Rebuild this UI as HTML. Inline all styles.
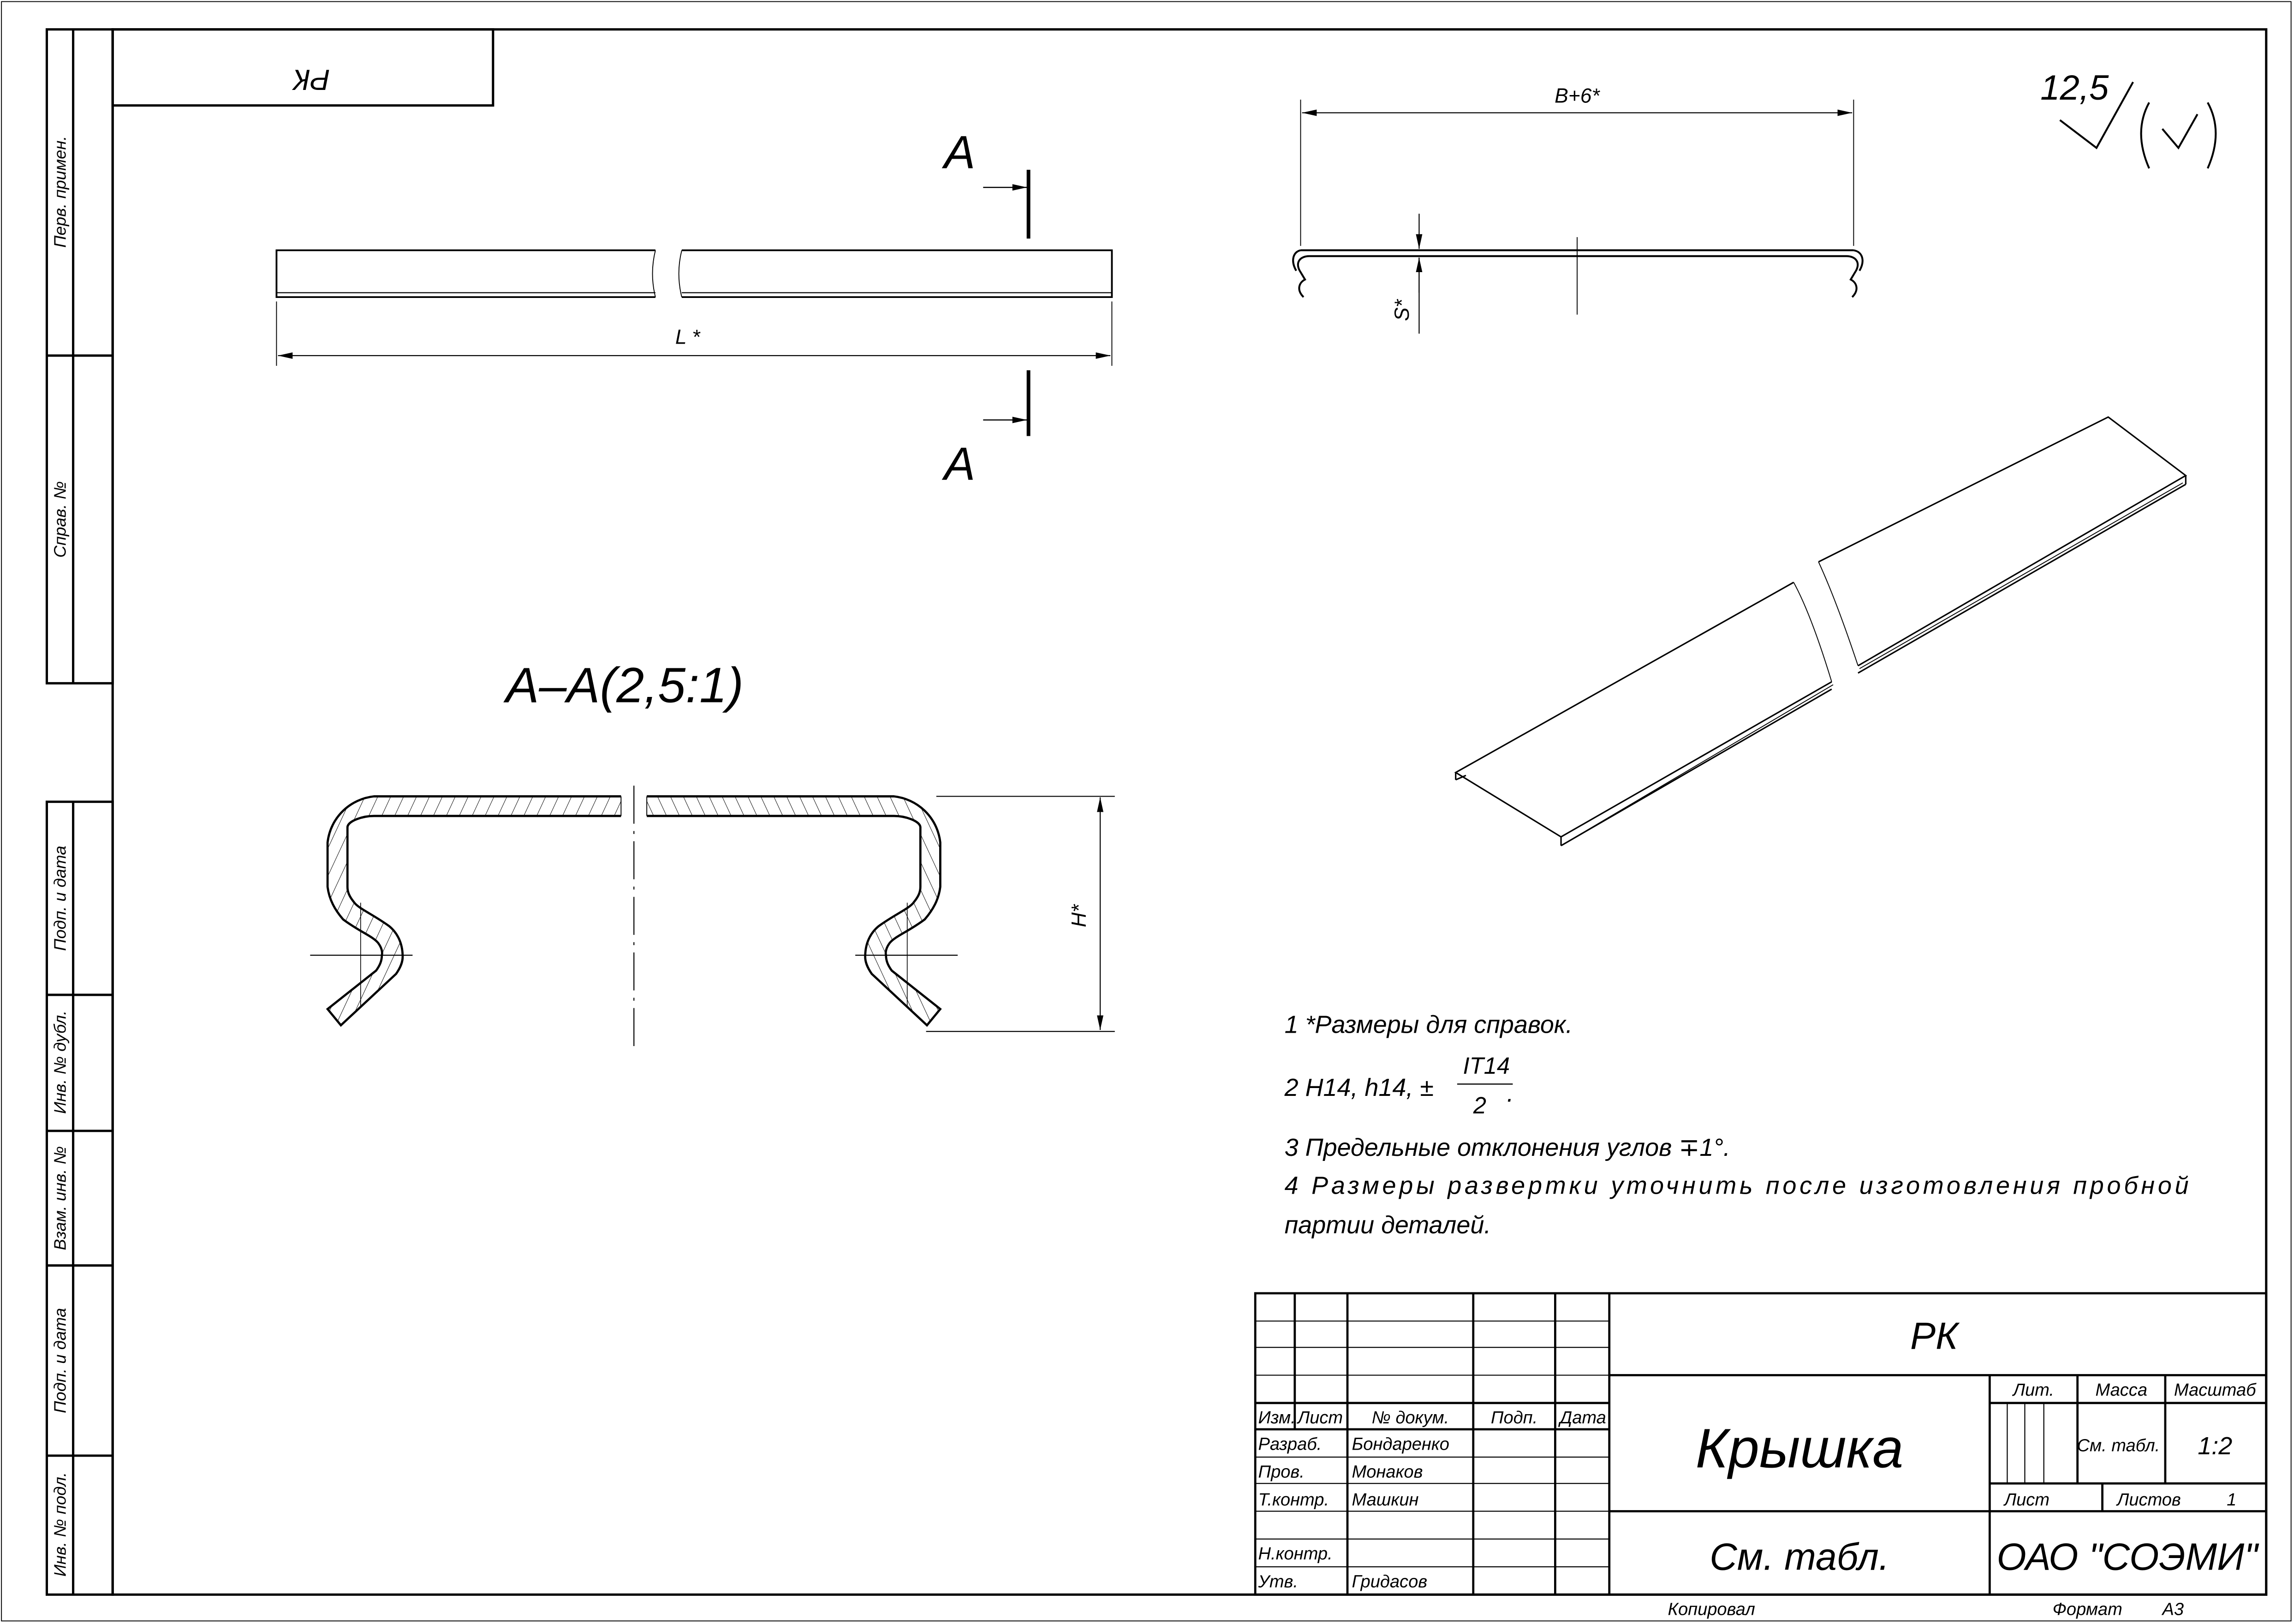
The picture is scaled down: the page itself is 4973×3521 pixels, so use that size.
<!DOCTYPE html>
<html><head><meta charset="utf-8"><style>
html,body{margin:0;padding:0;background:#fff;}
svg{display:block;}
text{font-family:"Liberation Sans","DejaVu Sans",sans-serif;font-style:italic;fill:#000;}
</style></head><body>
<svg width="4973" height="3521" viewBox="0 0 1568 1110" xmlns="http://www.w3.org/2000/svg">
<defs>
<pattern id="h" patternUnits="userSpaceOnUse" width="8" height="8" patternTransform="rotate(25)">
<line x1="0" y1="0" x2="0" y2="8" stroke="#000" stroke-width="0.6"/>
</pattern>
<marker id="ar" markerWidth="10" markerHeight="6" refX="10" refY="3" orient="auto" markerUnits="userSpaceOnUse"><path d="M0,0.8 L10,3 L0,5.2 Z" fill="#000"/></marker>
<marker id="al" markerWidth="10" markerHeight="6" refX="0" refY="3" orient="auto" markerUnits="userSpaceOnUse"><path d="M10,0.8 L0,3 L10,5.2 Z" fill="#000"/></marker>
</defs>
<rect x="0" y="0" width="1568" height="1110" fill="#fff"/>
<rect x="1" y="1" width="1565" height="1107" fill="none" stroke="#000" stroke-width="0.6"/>
<g fill="none" stroke="#000" stroke-width="1.6">
<rect x="77" y="20" width="1472" height="1070"/>
<rect x="32" y="20" width="45" height="447"/>
<line x1="50" y1="20" x2="50" y2="467"/>
<line x1="32" y1="243" x2="77" y2="243"/>
<rect x="32" y="548" width="45" height="542"/>
<line x1="50" y1="548" x2="50" y2="1090"/>
<line x1="32" y1="680" x2="77" y2="680"/>
<line x1="32" y1="773" x2="77" y2="773"/>
<line x1="32" y1="865" x2="77" y2="865"/>
<line x1="32" y1="995" x2="77" y2="995"/>
<rect x="77" y="20" width="260" height="52"/>
</g>
<text transform="translate(213,53) rotate(180)" font-size="20" text-anchor="middle" dominant-baseline="middle">РК</text>
<g font-size="11.5" text-anchor="middle">
<text transform="translate(45,131) rotate(-90)">Перв. примен.</text>
<text transform="translate(45,355) rotate(-90)">Справ. №</text>
<text transform="translate(45,614) rotate(-90)">Подп. и дата</text>
<text transform="translate(45,726) rotate(-90)">Инв. № дубл.</text>
<text transform="translate(45,819) rotate(-90)">Взам. инв. №</text>
<text transform="translate(45,930) rotate(-90)">Подп. и дата</text>
<text transform="translate(45,1042) rotate(-90)">Инв. № подл.</text>
</g>

<g fill="none" stroke="#000">
<path d="M448,171 L189,171 L189,203 L448,203" stroke-width="1.2"/>
<path d="M466,171 L760,171 L760,203 L466,203" stroke-width="1.2"/>
<line x1="189" y1="200" x2="448" y2="200" stroke-width="0.7"/>
<line x1="466" y1="200" x2="760" y2="200" stroke-width="0.7"/>
<path d="M448,171 Q444,187 448,203" stroke-width="0.6"/>
<path d="M466,171 Q462,187 466,203" stroke-width="0.6"/>
<line x1="189" y1="206" x2="189" y2="250" stroke-width="0.6"/>
<line x1="760" y1="206" x2="760" y2="250" stroke-width="0.6"/>
<line x1="190" y1="243" x2="759" y2="243" stroke-width="0.7" marker-start="url(#al)" marker-end="url(#ar)"/>
<line x1="703" y1="116" x2="703" y2="163" stroke-width="2.5"/>
<line x1="703" y1="253" x2="703" y2="298" stroke-width="2.5"/>
<line x1="672" y1="128" x2="702" y2="128" stroke-width="0.8" marker-end="url(#ar)"/>
<line x1="672" y1="287" x2="702" y2="287" stroke-width="0.8" marker-end="url(#ar)"/>
</g>
<text x="470" y="235" font-size="14" text-anchor="middle">L *</text>
<text x="656" y="115" font-size="32" text-anchor="middle">A</text>
<text x="656" y="328" font-size="32" text-anchor="middle">A</text>

<text x="427" y="480" font-size="34" text-anchor="middle">A–A(2,5:1)</text>
<g id="half">
<path d="M424.5,544.3 L255.6,544.3 C240,546 226,558 223.9,575.8 L223.9,606.2 C225,615 229,622 234.5,628.4 L258.6,644.7 C261,648 261.5,651 261,652.9 C261,657 259.5,660 257.1,663.4 L223.9,689.7 L233,700.8 L270.7,665.7 C274,661 275.5,657 275.2,652.9 C275,645 272,638 266.1,633.1 L242,616.7 C239,613 237.5,610 237.5,606.2 L237.5,565.3 C238,561 248,557.7 255.6,557.7 L424.5,557.7 Z" fill="url(#h)" stroke="none"/>
<path d="M424.5,544.3 L255.6,544.3 C240,546 226,558 223.9,575.8 L223.9,606.2 C225,615 229,622 234.5,628.4 C246,637 255,640 258.6,644.7 C261,648 261.5,651 261,652.9 C261,657 259.5,660 257.1,663.4 L223.9,689.7 L233,700.8 L270.7,665.7 C274,661 275.5,657 275.2,652.9 C275,645 272,638 266.1,633.1 C255,625 245,621 242,616.7 C239,613 237.5,610 237.5,606.2 L237.5,565.3 C238,561 248,557.7 255.6,557.7 L424.5,557.7" fill="none" stroke="#000" stroke-width="1.5"/>
<line x1="424.5" y1="544.3" x2="424.5" y2="557.7" stroke="#000" stroke-width="0.6"/>
<line x1="212" y1="652.9" x2="282" y2="652.9" stroke="#000" stroke-width="0.7"/>
<line x1="246.5" y1="617" x2="246.5" y2="688" stroke="#000" stroke-width="0.5"/>
</g>
<use href="#half" transform="translate(866.6,0) scale(-1,1)"/>
<line x1="433.3" y1="537" x2="433.3" y2="715" stroke="#000" stroke-width="0.7" stroke-dasharray="26,5,2,5"/>
<g fill="none" stroke="#000" stroke-width="0.7">
<line x1="640" y1="544.3" x2="762" y2="544.3"/>
<line x1="633" y1="705" x2="762" y2="705"/>
<line x1="752" y1="545" x2="752" y2="704" marker-start="url(#al)" marker-end="url(#ar)"/>
</g>
<text transform="translate(742,626) rotate(-90)" font-size="14" text-anchor="middle">H*</text>

<g fill="none" stroke="#000">
<path d="M895,175 C888,175 885,180 889,186 L892,191 C888,193 886,198 891,203" stroke-width="1.3"/>
<path d="M1262,175 C1269,175 1272,180 1268,186 L1265,191 C1269,193 1271,198 1266,203" stroke-width="1.3"/>
<path d="M889,171 L1267,171 M895,175 L1262,175" stroke-width="1.3"/>
<path d="M889,171 C884,172 882,178 886,185 M1267,171 C1273,172 1275,178 1271,185" stroke-width="1.3"/>
<line x1="1078" y1="162" x2="1078" y2="215" stroke-width="0.6"/>
<line x1="889" y1="68" x2="889" y2="168" stroke-width="0.6"/>
<line x1="1267" y1="68" x2="1267" y2="168" stroke-width="0.6"/>
<line x1="890" y1="77" x2="1266" y2="77" stroke-width="0.7" marker-start="url(#al)" marker-end="url(#ar)"/>
<line x1="970" y1="146" x2="970" y2="170" stroke-width="0.7" marker-end="url(#ar)"/>
<line x1="970" y1="200" x2="970" y2="176" stroke-width="0.7" marker-end="url(#ar)"/>
<line x1="970" y1="176" x2="970" y2="228" stroke-width="0.7"/>
<line x1="960" y1="171" x2="980" y2="171" stroke-width="0.5"/>
<line x1="960" y1="175" x2="980" y2="175" stroke-width="0.5"/>
</g>
<text x="1078" y="70" font-size="14" text-anchor="middle">B+6*</text>
<text transform="translate(963,212) rotate(-90)" font-size="14" text-anchor="middle">S*</text>

<text x="1418" y="68" font-size="24" text-anchor="middle">12,5</text>
<g fill="none" stroke="#000" stroke-width="1.3">
<path d="M1408,82 L1433,101 L1458,56"/>
<path d="M1469,70 Q1458,90 1469,115"/>
<path d="M1509,70 Q1520,90 1509,115"/>
<path d="M1478,88 L1489,101 L1502,78"/>
</g>

<g fill="none" stroke="#000" stroke-width="1">
<path d="M1226,398 L995,528 L1067,572 L1252,466"/>
<path d="M1243,384 L1441,285 L1494,325 L1270,455"/>
<path d="M995,528 L995,533 M1067,572 L1067,578 M1494,325 L1494,331"/>
<path d="M1067,578 L1252,471 M1270,460 L1494,331"/>
<path d="M1072,575 L1253,468 M1271,457 L1492,330" stroke-width="0.6"/>
<path d="M995,533 L1002,530"/>
<path d="M1226,398 Q1238,420 1252,466 M1243,384 Q1255,410 1270,455" stroke-width="0.6"/>
</g>

<g font-size="17">
<text x="878" y="706">1  *Размеры для справок.</text>
<text x="878" y="749">2  H14, h14, ±</text>
<text x="1000" y="734" font-size="16">IT14</text>
<line x1="996" y1="741" x2="1034" y2="741" stroke="#000" stroke-width="0.8"/>
<text x="1007" y="761" font-size="16">2</text>
<text x="1030" y="753">.</text>
<text x="878" y="790">3  Предельные отклонения углов ∓1°.</text>
<text x="878" y="816" textLength="618" lengthAdjust="spacing">4  Размеры  развертки  уточнить  после  изготовления  пробной</text>
<text x="878" y="843">партии деталей.</text>
</g>

<g fill="none" stroke="#000" stroke-width="1.5">
<rect x="858" y="884" width="691" height="206"/>
<line x1="885" y1="884" x2="885" y2="977"/>
<line x1="921" y1="884" x2="921" y2="1090"/>
<line x1="1007" y1="884" x2="1007" y2="1090"/>
<line x1="1063" y1="884" x2="1063" y2="1090"/>
<line x1="1100" y1="884" x2="1100" y2="1090"/>
<line x1="858" y1="959" x2="1100" y2="959"/>
<line x1="858" y1="977" x2="1100" y2="977"/>
<line x1="1100" y1="940" x2="1549" y2="940"/>
<line x1="1100" y1="1033" x2="1549" y2="1033"/>
<line x1="1360" y1="940" x2="1360" y2="1090"/>
<line x1="1360" y1="959" x2="1549" y2="959"/>
<line x1="1360" y1="1014" x2="1549" y2="1014"/>
<line x1="1420" y1="940" x2="1420" y2="1014"/>
<line x1="1480" y1="940" x2="1480" y2="1014"/>
<line x1="1437" y1="1014" x2="1437" y2="1033"/>
</g>
<g fill="none" stroke="#000" stroke-width="0.7">
<line x1="858" y1="903" x2="1100" y2="903"/>
<line x1="858" y1="921" x2="1100" y2="921"/>
<line x1="858" y1="940" x2="1100" y2="940"/>
<line x1="858" y1="996" x2="1100" y2="996"/>
<line x1="858" y1="1014" x2="1100" y2="1014"/>
<line x1="858" y1="1033" x2="1100" y2="1033"/>
<line x1="858" y1="1052" x2="1100" y2="1052"/>
<line x1="858" y1="1071" x2="1100" y2="1071"/>
<line x1="1372" y1="959" x2="1372" y2="1014"/>
<line x1="1384" y1="959" x2="1384" y2="1014"/>
<line x1="1397" y1="959" x2="1397" y2="1014"/>
</g>
<g font-size="12">
<text x="860" y="973">Изм.</text><text x="887" y="973">Лист</text>
<text x="964" y="973" text-anchor="middle">№ докум.</text>
<text x="1035" y="973" text-anchor="middle">Подп.</text>
<text x="1082" y="973" text-anchor="middle">Дата</text>
<text x="860" y="991">Разраб.</text><text x="924" y="991">Бондаренко</text>
<text x="860" y="1010">Пров.</text><text x="924" y="1010">Монаков</text>
<text x="860" y="1029">Т.контр.</text><text x="924" y="1029">Машкин</text>
<text x="860" y="1066">Н.контр.</text>
<text x="860" y="1085">Утв.</text><text x="924" y="1085">Гридасов</text>
<text x="1390" y="954" text-anchor="middle">Лит.</text>
<text x="1450" y="954" text-anchor="middle">Масса</text>
<text x="1514" y="954" text-anchor="middle">Масштаб</text>
<text x="1370" y="1029">Лист</text>
<text x="1447" y="1029">Листов</text>
<text x="1522" y="1029">1</text>
<text x="1140" y="1104">Копировал</text>
<text x="1403" y="1104">Формат</text>
<text x="1478" y="1104">А3</text>
</g>
<text x="1448" y="992" font-size="12" text-anchor="middle">См. табл.</text>
<text x="1514" y="994" font-size="17" text-anchor="middle">1:2</text>
<text x="1322" y="922" font-size="26" text-anchor="middle">РК</text>
<text x="1230" y="1003" font-size="38" text-anchor="middle">Крышка</text>
<text x="1230" y="1073" font-size="26" text-anchor="middle">См. табл.</text>
<text x="1454" y="1073" font-size="26" text-anchor="middle">ОАО "СОЭМИ"</text>
</svg>
</body></html>
